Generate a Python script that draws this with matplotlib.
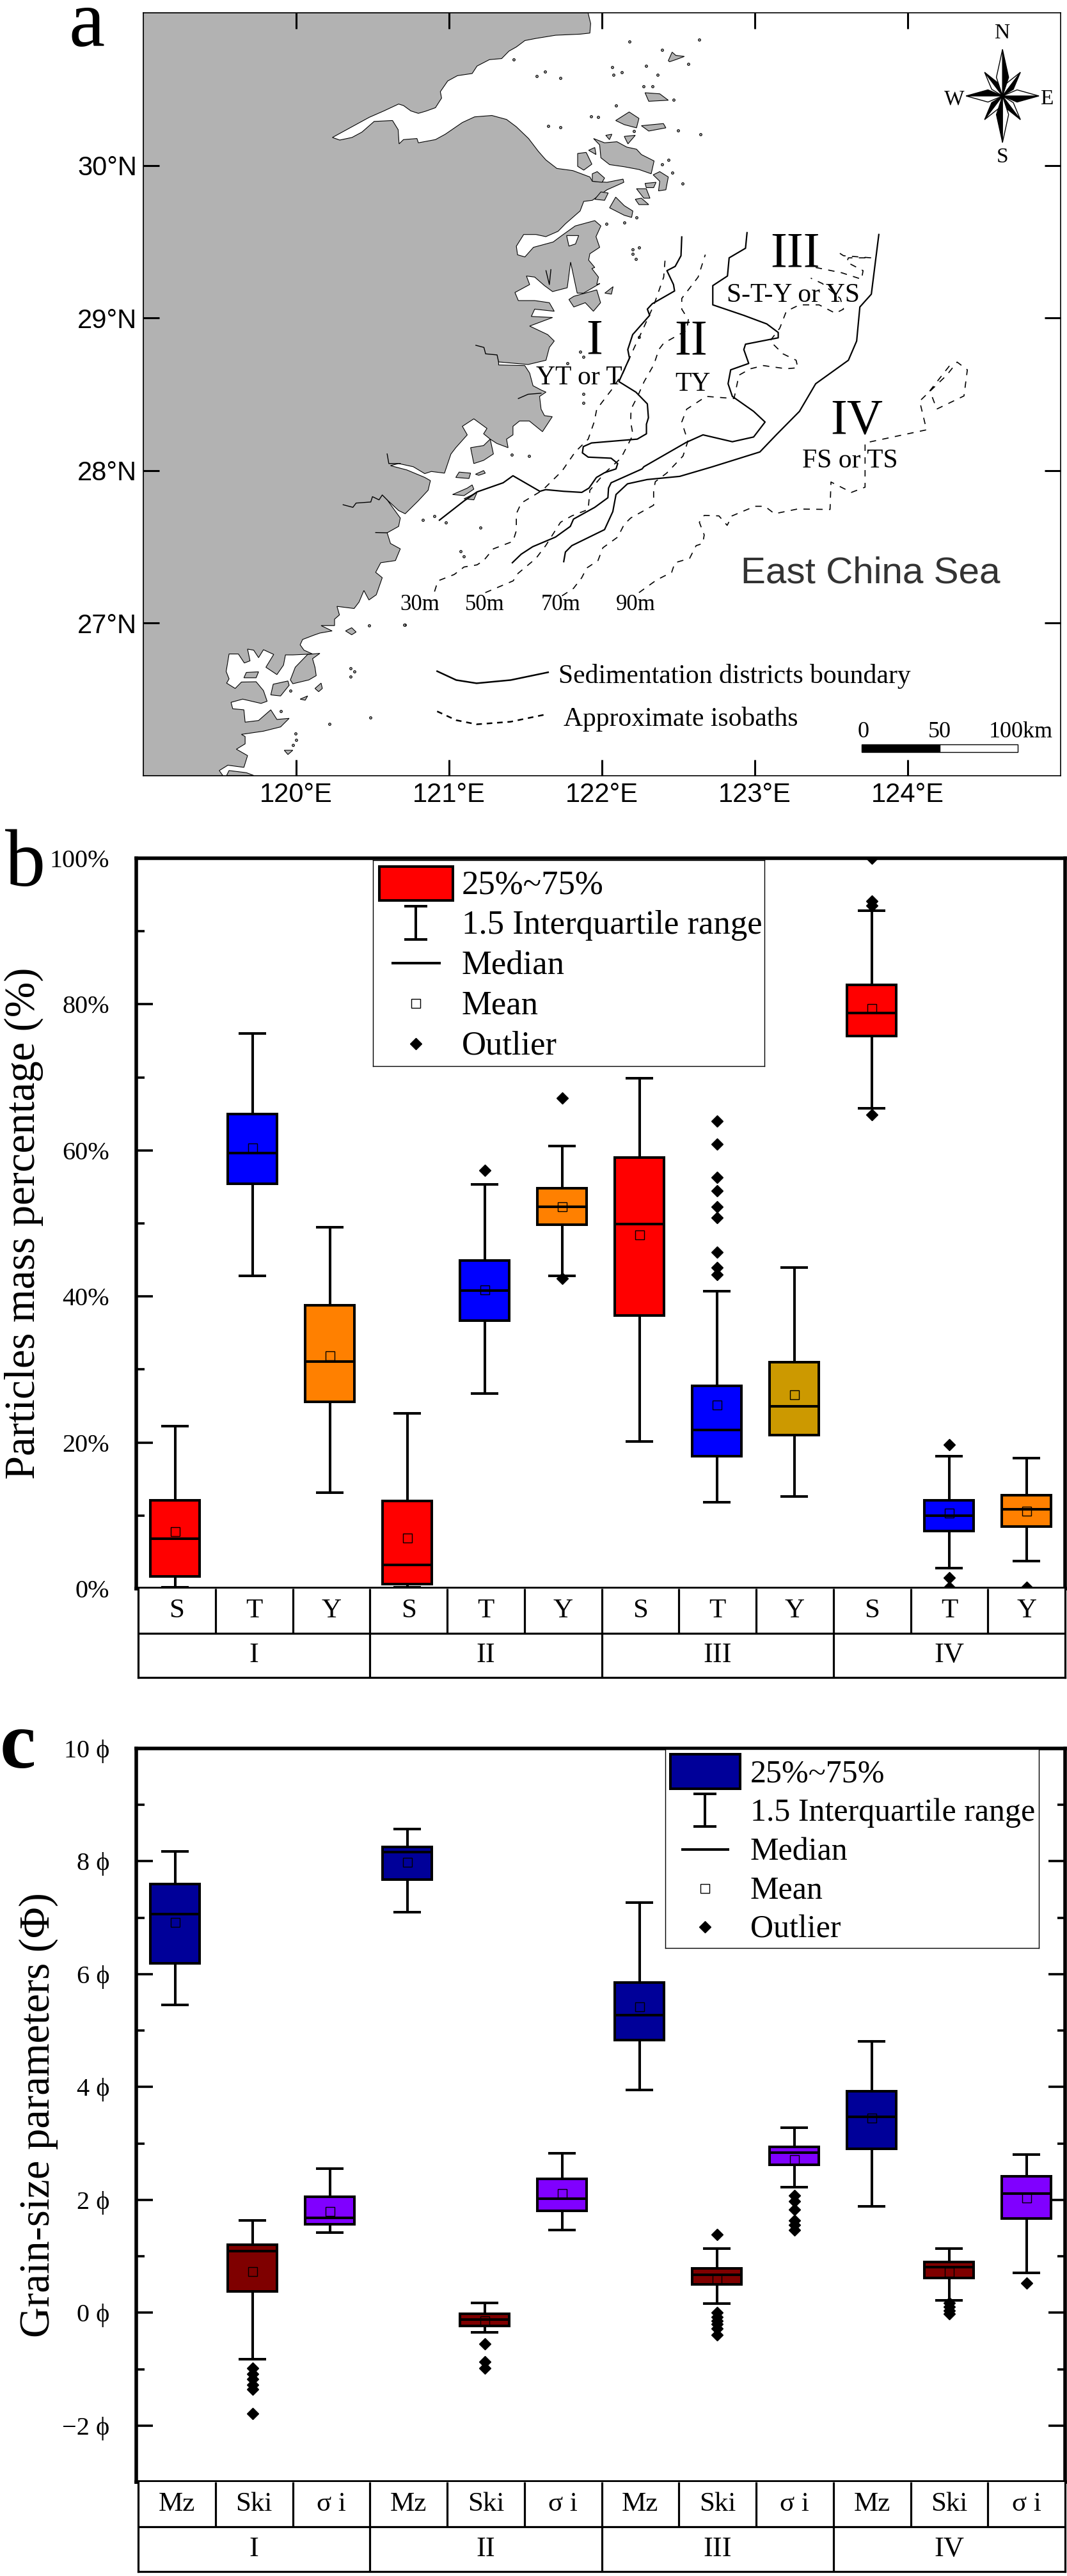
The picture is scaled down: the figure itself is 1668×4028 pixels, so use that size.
import matplotlib
matplotlib.use('Agg')
import numpy as np
import matplotlib.pyplot as plt
from matplotlib.patches import Polygon, Rectangle

plt.rcParams['font.family'] = ['Liberation Serif', 'DejaVu Sans']

W, H = 1668, 4028
GRAY = '#b2b2b2'

# Coastline of the mainland, lon / lat, north to south.
coast_lon = [121.909, 121.926, 121.921, 121.857, 121.697, 121.568, 121.496, 121.440, 121.392, 121.344, 121.264, 121.183,
             121.151, 121.055, 120.991, 120.943, 120.951, 120.911, 120.847, 120.799, 120.750, 120.702, 120.670, 120.574,
             120.478, 120.237, 120.285, 120.365, 120.430, 120.510, 120.630, 120.667, 120.673, 120.702, 120.790, 120.799,
             120.911, 120.975, 121.087, 121.167, 121.280, 121.376, 121.440, 121.520, 121.584, 121.633, 121.705, 121.809,
             121.921, 121.937, 122.033, 122.138, 122.143, 122.033, 121.937, 121.881, 121.857, 121.761, 121.713, 121.633,
             121.568, 121.488, 121.440, 121.448, 121.496, 121.552, 121.681, 121.737, 121.825, 121.953, 121.993, 121.961,
             121.985, 121.921, 121.913, 121.953, 121.934, 121.977, 121.966, 121.987, 121.880, 121.838, 121.795, 121.773,
             121.677, 121.624, 121.560, 121.506, 121.527, 121.431, 121.453, 121.560, 121.656, 121.688, 121.560, 121.538,
             121.677, 121.527, 121.645, 121.688, 121.656, 121.634, 121.517, 121.324, 121.324, 121.495, 121.527, 121.549,
             121.602, 121.634, 121.592, 121.602, 121.624, 121.675, 121.611, 121.568, 121.525, 121.461, 121.418, 121.418,
             121.376, 121.386, 121.312, 121.269, 121.226, 121.248, 121.162, 121.087, 121.119, 121.044, 121.012, 120.970,
             120.884, 120.841, 120.766, 120.670, 120.617, 120.724, 120.841, 120.878, 120.863, 120.798, 120.713, 120.670,
             120.595, 120.681, 120.670, 120.595, 120.617, 120.681, 120.649, 120.553, 120.520, 120.563, 120.524, 120.476,
             120.443, 120.411, 120.379, 120.267, 120.283, 120.251, 120.251, 120.163, 120.235, 120.155, 120.115, 120.042,
             120.026, 120.051, 120.107, 119.978, 119.930, 119.917, 119.874, 119.802, 119.853, 119.786, 119.754, 119.722,
             119.682, 119.698, 119.661, 119.622, 119.561, 119.542, 119.561, 119.545, 119.601, 119.642, 119.738, 119.786,
             119.810, 119.770, 119.650, 119.574, 119.585, 119.658, 119.666, 119.754, 119.834, 119.874, 119.954, 119.898,
             119.786, 119.642, 119.666, 119.666, 119.609, 119.682, 119.658, 119.553, 119.497, 119.521, 119.0, 119.0]
coast_lat = [31.0, 30.930, 30.867, 30.860, 30.853, 30.832, 30.818, 30.776, 30.749, 30.700, 30.693, 30.651,
             30.602, 30.588, 30.553, 30.483, 30.441, 30.378, 30.355, 30.341, 30.357, 30.392, 30.402, 30.357,
             30.315, 30.183, 30.166, 30.183, 30.218, 30.288, 30.294, 30.234, 30.141, 30.169, 30.176, 30.148,
             30.169, 30.204, 30.281, 30.318, 30.327, 30.301, 30.253, 30.176, 30.092, 30.036, 29.980, 29.966,
             29.924, 29.896, 29.889, 29.910, 29.889, 29.840, 29.771, 29.764, 29.701, 29.617, 29.568, 29.533,
             29.547, 29.547, 29.470, 29.414, 29.400, 29.463, 29.498, 29.540, 29.603, 29.638, 29.603, 29.533,
             29.463, 29.421, 29.379, 29.331, 29.324, 29.268, 29.219, 29.226, 29.163, 29.163, 29.366, 29.198,
             29.173, 29.212, 29.268, 29.275, 29.219, 29.167, 29.114, 29.114, 29.100, 29.044, 29.058, 29.010,
             29.003, 28.947, 28.891, 28.849, 28.807, 28.723, 28.695, 28.712, 28.692, 28.688, 28.639, 28.556,
             28.528, 28.514, 28.486, 28.402, 28.360, 28.353, 28.255, 28.290, 28.325, 28.325, 28.290, 28.234,
             28.206, 28.150, 28.178, 28.206, 28.241, 28.276, 28.339, 28.290, 28.234, 28.150, 28.108, 27.983,
             27.994, 27.980, 28.025, 28.046, 28.032, 28.004, 27.955, 27.934, 27.871, 27.801, 27.717, 27.738,
             27.808, 27.689, 27.634, 27.592, 27.522, 27.487, 27.410, 27.396, 27.333, 27.298, 27.186, 27.152,
             27.214, 27.138, 27.096, 27.110, 27.054, 27.026, 26.984, 26.984, 26.949, 26.935, 26.921, 26.893,
             26.858, 26.823, 26.798, 26.792, 26.792, 26.725, 26.663, 26.711, 26.795, 26.826, 26.774, 26.823,
             26.830, 26.753, 26.739, 26.798, 26.798, 26.683, 26.635, 26.607, 26.572, 26.614, 26.616, 26.558,
             26.488, 26.474, 26.502, 26.481, 26.439, 26.432, 26.351, 26.362, 26.432, 26.369, 26.376, 26.320,
             26.292, 26.271, 26.257, 26.209, 26.174, 26.132, 26.055, 26.069, 26.034, 26.0, 26.0, 31.0]

# Larger islands, one (lons, lats) pair each.
islands = [
    ([121.945, 122.017, 122.098, 122.162, 122.226, 122.258, 122.341, 122.322, 122.242, 122.146, 122.050, 121.993, 121.985],
     [30.176, 30.148, 30.155, 30.120, 30.106, 30.071, 30.029, 29.945, 29.973, 29.991, 30.005, 30.050, 30.134]),
    ([121.841, 121.897, 121.934, 121.881, 121.841], [30.078, 30.085, 30.008, 29.969, 29.994]),
    ([122.090, 122.178, 122.242, 122.226, 122.146], [30.294, 30.350, 30.308, 30.246, 30.267]),
    ([122.258, 122.402, 122.418, 122.306], [30.260, 30.274, 30.246, 30.225]),
    ([122.282, 122.378, 122.434, 122.306], [30.476, 30.469, 30.427, 30.420]),
    ([121.937, 121.969, 122.017, 122.001, 121.937], [29.945, 29.959, 29.917, 29.889, 29.896]),
    ([121.953, 121.993, 122.041, 122.017], [29.778, 29.826, 29.819, 29.771]),
    ([122.050, 122.090, 122.146, 122.202, 122.194, 122.146], [29.722, 29.792, 29.736, 29.701, 29.659, 29.673]),
    ([122.226, 122.290, 122.314, 122.274], [29.847, 29.847, 29.785, 29.785]),
    ([122.335, 122.378, 122.434, 122.418, 122.370, 122.378], [29.938, 29.959, 29.924, 29.840, 29.833, 29.896]),
    ([122.218, 122.258, 122.306, 122.242], [29.778, 29.785, 29.743, 29.743]),
    ([122.282, 122.354, 122.338, 122.290], [29.882, 29.889, 29.854, 29.854]),
    ([122.434, 122.459, 122.483, 122.539, 122.483, 122.442], [30.686, 30.742, 30.721, 30.714, 30.693, 30.679]),
    ([122.146, 122.218, 122.170], [30.190, 30.197, 30.141]),
    ([122.025, 122.065, 122.049], [30.197, 30.204, 30.169]),
    ([121.913, 121.953, 121.961], [30.099, 30.117, 30.071]),
    ([121.816, 121.966, 121.991, 121.944, 121.891, 121.816, 121.784], [29.142, 29.184, 29.100, 29.044, 29.100, 29.072, 29.121]),
    ([122.019, 122.073, 122.062], [29.163, 29.205, 29.156]),
    ([121.044, 121.066, 121.141, 121.130], [27.955, 27.990, 27.983, 27.948]),
    ([121.173, 121.226, 121.237, 121.194], [27.976, 28.000, 27.983, 27.969]),
    ([121.023, 121.119, 121.151, 121.162, 121.098], [27.843, 27.885, 27.906, 27.878, 27.836]),
    ([121.098, 121.183, 121.162], [27.815, 27.857, 27.808]),
    ([121.141, 121.226, 121.269, 121.290, 121.226, 121.162], [28.150, 28.164, 28.206, 28.109, 28.067, 28.046]),
    ([120.075, 119.994, 119.962, 119.978, 120.083, 120.131, 120.123, 120.107, 120.155],
     [26.795, 26.711, 26.628, 26.603, 26.628, 26.656, 26.711, 26.767, 26.802]),
    ([119.834, 119.850, 119.946, 119.954, 119.898], [26.530, 26.600, 26.621, 26.593, 26.523]),
    ([119.658, 119.674, 119.754, 119.738], [26.642, 26.677, 26.681, 26.642]),
    ([120.323, 120.363, 120.392, 120.363], [26.949, 26.970, 26.942, 26.924]),
    ([119.561, 119.674, 119.722, 119.545], [26.034, 26.020, 26.002, 26.002]),
    ([119.922, 119.978, 119.946], [26.167, 26.167, 26.139]),
    ([120.123, 120.163, 120.171, 120.147], [26.572, 26.607, 26.572, 26.551]),
    ([120.026, 120.075, 120.059], [26.502, 26.523, 26.495]),
]

# Lake cut out of the land.
lake_lon = [121.769, 121.848, 121.827, 121.784]
lake_lat = [29.540, 29.540, 29.485, 29.471]

# Small islets.
islet_lon = [122.180, 122.394, 121.629, 121.572, 121.726, 121.424, 122.065, 122.130, 122.074, 122.290, 122.362, 122.274,
             122.330, 122.563, 122.635, 122.467, 122.093, 121.973, 121.929, 121.649, 121.726, 122.499, 122.646, 122.210,
             122.434, 122.394, 122.459, 122.527, 122.030, 122.202, 122.242, 122.146, 122.226, 122.201, 122.222, 121.880,
             121.880, 121.859, 121.880, 121.773, 122.244, 121.525, 121.408, 121.076, 121.098, 121.205, 120.980, 120.830,
             120.905, 120.713, 120.355, 120.379, 120.355, 120.484, 119.994, 120.002, 119.978, 119.898, 120.708, 120.476,
             120.219, 119.962]
islet_lat = [30.811, 30.756, 30.616, 30.584, 30.574, 30.693, 30.644, 30.609, 30.592, 30.651, 30.595, 30.518,
             30.518, 30.665, 30.825, 30.430, 30.392, 30.315, 30.322, 30.260, 30.250, 30.227, 30.204, 30.225,
             30.036, 30.008, 29.952, 29.882, 29.617, 29.449, 29.463, 29.624, 29.659, 29.422, 29.387, 28.500,
             28.444, 28.779, 28.744, 28.702, 28.877, 28.095, 28.102, 27.473, 27.438, 27.627, 27.661, 27.675,
             27.703, 26.991, 26.704, 26.684, 26.649, 26.383, 26.278, 26.236, 26.201, 26.425, 26.991, 26.984,
             26.341, 26.558]

# Rivers drawn as thin lines.
rivers = [
    ([121.324, 121.314, 121.239, 121.228, 121.175], [28.712, 28.758, 28.765, 28.807, 28.821]),
    ([120.307, 120.371, 120.392, 120.488, 120.499, 120.542, 120.563, 120.595],
     [27.776, 27.759, 27.787, 27.794, 27.829, 27.808, 27.840, 27.808]),
    ([121.453, 121.517, 121.602], [28.472, 28.500, 28.507]),
    ([120.520, 120.595], [27.594, 27.592]),
    ([120.595, 120.606, 120.681], [28.109, 28.046, 28.046]),
    ([121.634, 121.656, 121.666], [29.310, 29.219, 29.317]),
]

# Sedimentation district boundaries.
bound_a_lon = [122.522, 122.517, 122.479, 122.425, 122.468, 122.475, 122.329, 122.297, 122.312, 122.201, 122.169, 122.180,
               122.111, 122.222, 122.297, 122.304, 122.291, 122.291, 122.231, 121.932, 121.878, 121.872, 121.910, 122.060,
               122.103, 122.092, 122.017, 121.964, 121.915, 121.868, 121.750, 121.632, 121.594, 121.418, 121.354, 121.183,
               121.098, 120.937]
bound_a_lat = [29.531, 29.408, 29.338, 29.310, 29.219, 29.177, 29.093, 29.058, 29.017, 28.891, 28.793, 28.737,
               28.583, 28.514, 28.437, 28.346, 28.304, 28.241, 28.206, 28.181, 28.157, 28.116, 28.088, 28.081,
               28.046, 28.011, 27.986, 27.955, 27.885, 27.857, 27.864, 27.875, 27.864, 27.966, 27.920, 27.860,
               27.801, 27.675]
bound_b_lon = [122.949, 122.939, 122.832, 122.821, 122.725, 122.725, 122.928, 123.078, 123.153, 123.153, 122.939, 122.928,
               122.960, 122.842, 122.825, 122.853, 122.992, 123.067, 122.992, 122.853, 122.661, 122.552, 122.274, 122.263,
               122.060, 122.043, 122.039, 121.953, 121.814, 121.793, 121.696, 121.547, 121.472, 121.414]
bound_b_lat = [29.559, 29.457, 29.394, 29.275, 29.212, 29.086, 29.017, 28.961, 28.905, 28.870, 28.828, 28.793,
               28.702, 28.660, 28.569, 28.486, 28.388, 28.318, 28.220, 28.189, 28.234, 28.185, 28.025, 28.011,
               27.920, 27.885, 27.822, 27.759, 27.682, 27.634, 27.564, 27.501, 27.452, 27.396]
bound_c_lon = [123.811, 123.762, 123.687, 123.666, 123.612, 123.398, 123.292, 123.140, 123.033, 122.723, 122.509, 122.295,
               122.167, 122.092, 122.071, 122.017, 121.803, 121.761, 121.750]
bound_c_lat = [29.547, 29.156, 29.072, 28.849, 28.723, 28.569, 28.388, 28.234, 28.122, 28.025, 27.962, 27.941,
               27.913, 27.843, 27.731, 27.613, 27.508, 27.466, 27.403]

# Approximate isobaths.
iso30_lon = [120.905, 120.927, 121.034, 121.098, 121.183, 121.226, 121.290, 121.418, 121.440, 121.440, 121.472, 121.611,
             121.739, 121.825, 121.910, 121.949, 121.966, 122.062, 122.137, 122.212, 122.265, 122.340, 122.404, 122.415]
iso30_lat = [27.207, 27.277, 27.319, 27.368, 27.382, 27.410, 27.487, 27.536, 27.606, 27.717, 27.787, 27.871,
             27.997, 28.122, 28.206, 28.318, 28.402, 28.528, 28.639, 28.807, 28.919, 29.086, 29.268, 29.408]
iso50_lon = [121.237, 121.419, 121.451, 121.568, 121.632, 121.729, 121.803, 121.910, 121.921, 122.017, 122.124, 122.167,
             122.203, 122.188, 122.190, 122.233, 122.276, 122.340, 122.372, 122.404, 122.479, 122.554, 122.565, 122.522,
             122.522, 122.629, 122.676]
iso50_lat = [27.200, 27.277, 27.326, 27.424, 27.508, 27.661, 27.703, 27.745, 27.871, 27.983, 28.081, 28.164,
             28.234, 28.318, 28.402, 28.486, 28.583, 28.695, 28.793, 28.835, 28.877, 28.919, 28.989, 29.058,
             29.128, 29.268, 29.415]
iso70_lon = [121.739, 121.814, 121.868, 121.900, 121.974, 122.006, 122.103, 122.146, 122.188, 122.338, 122.338, 122.349,
             122.423, 122.530, 122.562, 122.522, 122.554, 122.682, 122.864, 122.896, 122.971, 123.056, 123.206, 123.281,
             123.270, 123.184, 123.099, 123.163, 123.206, 123.292, 123.420, 123.527, 123.580, 123.559, 123.441, 123.366]
iso70_lat = [27.179, 27.228, 27.298, 27.361, 27.410, 27.494, 27.564, 27.648, 27.689, 27.773, 27.871, 27.927,
             27.983, 28.095, 28.192, 28.318, 28.402, 28.486, 28.472, 28.625, 28.667, 28.688, 28.667, 28.674,
             28.723, 28.765, 28.849, 28.933, 29.044, 29.086, 29.086, 29.031, 29.058, 29.128, 29.226, 29.261]
iso70b_lon = [123.398, 123.569, 123.698, 123.708, 123.601, 123.612, 123.762, 123.580, 123.537]
iso70b_lat = [29.331, 29.296, 29.254, 29.310, 29.366, 29.394, 29.394, 29.408, 29.436]
iso90_lon = [122.242, 122.359, 122.456, 122.477, 122.573, 122.616, 122.659, 122.669, 122.637, 122.669, 122.765, 122.819,
             122.851, 123.001, 123.065, 123.129, 123.279, 123.492, 123.498, 123.632, 123.721, 123.721, 124.123, 124.078,
             124.256, 124.323, 124.390, 124.368, 124.190, 124.145, 124.279]
iso90_lat = [27.200, 27.284, 27.333, 27.396, 27.424, 27.508, 27.522, 27.578, 27.661, 27.706, 27.703, 27.641,
             27.703, 27.766, 27.766, 27.717, 27.748, 27.745, 27.925, 27.857, 27.891, 28.181, 28.267, 28.455,
             28.626, 28.711, 28.660, 28.489, 28.403, 28.523, 28.694]

key_lon = [120.922, 121.047, 121.180, 121.403, 121.648]
key_solid_lat = [26.685, 26.627, 26.606, 26.627, 26.678]
key_dash_lat = [26.422, 26.364, 26.337, 26.354, 26.405]

lon_ticks = [120, 121, 122, 123, 124]
lat_ticks = [27, 28, 29, 30]

# Panel b, particle fractions.
b_cats = ['S', 'T', 'Y'] * 4
b_hi = [22.2, 76.0, 49.5, 24.0, 55.3, 60.6, 69.9, 40.7, 44.0, 92.8, 18.1, 17.9]
b_q3 = [12.1, 65.0, 38.8, 12.0, 44.9, 54.8, 59.0, 27.8, 31.0, 82.7, 12.1, 12.8]
b_med = [6.8, 59.6, 31.1, 3.2, 40.8, 52.3, 49.9, 21.7, 25.0, 78.8, 10.0, 10.9]
b_q1 = [1.7, 55.4, 25.6, 0.6, 36.7, 49.8, 37.4, 18.1, 21.0, 75.7, 7.9, 8.5]
b_lo = [0.15, 42.8, 13.1, 0.15, 26.7, 42.8, 20.1, 11.8, 12.6, 65.8, 2.8, 3.8]
b_mean = [7.8, 60.3, 31.9, 6.9, 40.9, 52.3, 48.4, 25.1, 26.5, 79.4, 10.3, 10.6]
b_out = [[], [], [], [], [57.3], [67.2, 42.5], [],
         [64.0, 60.9, 56.3, 54.5, 52.3, 50.8, 46.1, 44.0, 43.0], [],
         [100, 94.1, 93.5, 64.9], [19.7, 1.5, 0.15], [0.15]]
b_colors = ['#ff0000', '#0000ff', '#ff8000', '#ff0000', '#0000ff', '#ff8000',
            '#ff0000', '#0000ff', '#cc9900', '#ff0000', '#0000ff', '#ff8000']

# Panel c, grain-size parameters.
c_cats = ['Mz', 'Ski', 'σ i'] * 4
c_hi = [8.17, 1.63, 2.55, 8.57, 0.17, 2.82, 7.27, 1.14, 3.28, 4.81, 1.14, 2.80]
c_q3 = [7.60, 1.20, 2.05, 8.26, -0.02, 2.37, 5.85, 0.78, 2.94, 3.92, 0.90, 2.42]
c_med = [7.06, 1.09, 1.68, 8.16, -0.12, 2.02, 5.27, 0.67, 2.84, 3.47, 0.81, 2.11]
c_q1 = [6.19, 0.38, 1.57, 7.68, -0.23, 1.80, 4.83, 0.50, 2.62, 2.90, 0.61, 1.67]
c_lo = [5.46, -0.82, 1.42, 7.10, -0.35, 1.47, 3.95, 0.16, 2.22, 1.89, 0.22, 0.71]
c_mean = [6.92, 0.73, 1.79, 7.98, -0.14, 2.11, 5.42, 0.59, 2.71, 3.45, 0.72, 2.03]
c_out = [[], [-0.98, -1.08, -1.18, -1.28, -1.36, -1.79], [], [], [-0.55, -0.87, -0.98], [],
         [], [1.39, -0.0, -0.08, -0.14, -0.2, -0.28, -0.39], [2.08, 1.98, 1.83, 1.63, 1.56, 1.46],
         [], [0.17, 0.11, 0.04, -0.02], [0.52]]
c_colors = ['#000099', '#7f0000', '#8000ff'] * 4

districts = ['I', 'II', 'III', 'IV']
legend_labels = ['25%~75%', '1.5 Interquartile range', 'Median', 'Mean', 'Outlier']

LW = 2.9


def axes_px(left, top, right, bottom):
    return fig.add_axes([left / W, 1 - bottom / H, (right - left) / W, (bottom - top) / H])


def draw_boxes(ax, hi, q3, med, q1, lo, mean, out, colors):
    stats = []
    for i in range(len(hi)):
        stats.append(dict(whishi=hi[i], q3=q3[i], med=med[i], q1=q1[i], whislo=lo[i], mean=mean[i], fliers=out[i]))
    res = ax.bxp(stats, positions=np.arange(1, len(hi) + 1), widths=0.64, capwidths=0.33, patch_artist=True,
                 showmeans=True, manage_ticks=False,
                 boxprops=dict(linewidth=LW, edgecolor='k'),
                 whiskerprops=dict(linewidth=LW, color='k'),
                 capprops=dict(linewidth=LW, color='k'),
                 medianprops=dict(linewidth=LW, color='k'),
                 meanprops=dict(marker='s', markerfacecolor='none', markeredgecolor='k', markeredgewidth=1, markersize=9.5),
                 flierprops=dict(marker='D', markerfacecolor='k', markeredgecolor='k', markersize=9))
    for patch, col in zip(res['boxes'], colors):
        patch.set_facecolor(col)


def draw_table(ax, cats):
    # Two-row category table under a box panel.
    ax.set_xlim(0.5, 12.5)
    ax.set_ylim(0, 2)
    ax.set_xticks([])
    ax.set_yticks([])
    ax.axhline(1, color='k', lw=2.3)
    for spine in ax.spines.values():
        spine.set_linewidth(2.3)
    ax.spines['top'].set_visible(False)
    ax.vlines(np.arange(1.5, 12.5, 1), 1, 2, color='k', lw=2.3)
    ax.vlines([3.5, 6.5, 9.5], 0, 1, color='k', lw=2.3)
    for i, c in enumerate(cats):
        ax.text(i + 1, 1.5, c, ha='center', va='center', fontsize=31)
    for i, d in enumerate(districts):
        ax.text(2 + 3 * i, 0.5, d, ha='center', va='center', fontsize=32)


def draw_key(ax, color, labels, fontsize, text_x, patch_x, patch_y, whisk_y, row_y):
    ax.set_xlim(0, 1)
    ax.set_ylim(1, 0)
    ax.set_xticks([])
    ax.set_yticks([])
    for spine in ax.spines.values():
        spine.set_linewidth(1)
    mid = sum(patch_x) / 2
    ax.add_patch(Rectangle((patch_x[0], patch_y[0]), patch_x[1] - patch_x[0], patch_y[1] - patch_y[0],
                           facecolor=color, edgecolor='k', lw=LW))
    ax.errorbar([mid], [sum(whisk_y) / 2], yerr=[(whisk_y[1] - whisk_y[0]) / 2], color='k', lw=LW, capsize=13, capthick=LW)
    ax.plot([mid - 0.06, mid + 0.06], [row_y[2], row_y[2]], color='k', lw=LW)
    ax.plot([mid], [row_y[3]], 's', mfc='none', mec='k', mew=1, ms=9.5)
    ax.plot([mid], [row_y[4]], 'D', color='k', ms=9)
    for y, lab in zip(row_y, labels):
        ax.text(text_x, y + 0.012, lab, ha='left', va='center', fontsize=fontsize)


def style_box_axis(ax, major, minor, labels, low, high, right):
    ax.set_xlim(0.5, 12.5)
    ax.set_ylim(low, high)
    ax.set_xticks([])
    ax.set_yticks(major)
    ax.set_yticklabels(labels, fontsize=29)
    ax.set_yticks(minor, minor=True)
    ax.tick_params(axis='y', which='major', direction='in', length=19, width=2.6, right=right, pad=30)
    ax.tick_params(axis='y', which='minor', direction='in', length=9, width=2.6, right=right)
    for spine in ax.spines.values():
        spine.set_linewidth(4)


def draw_compass(ax, cx, cy, arms, spread):
    # Each arm is split along its axis, black on the clockwise side.
    for dx, dy in arms:
        length = np.hypot(dx, dy)
        px, py = dy / length * spread, -dx / length * spread
        bx, by = cx + dx * 0.4, cy + dy * 0.4
        ax.add_patch(Polygon([(cx, cy), (cx + dx, cy + dy), (bx + px, by + py)], facecolor='k', edgecolor='k', lw=1, zorder=6))
        ax.add_patch(Polygon([(cx, cy), (cx + dx, cy + dy), (bx - px, by - py)], facecolor='w', edgecolor='k', lw=1, zorder=6))


fig = plt.figure(figsize=(W / 100, H / 100), dpi=100)

# ---- Panel a: map ----
ax_map = axes_px(224, 20, 1658, 1213)
ax_map.set_xlim(119, 125)
ax_map.set_ylim(26, 31)
ax_map.add_patch(Polygon(np.c_[coast_lon, coast_lat], facecolor=GRAY, edgecolor='k', lw=0.8))
for lon, lat in islands:
    ax_map.add_patch(Polygon(np.c_[lon, lat], facecolor=GRAY, edgecolor='k', lw=0.8))
ax_map.add_patch(Polygon(np.c_[lake_lon, lake_lat], facecolor='w', edgecolor='k', lw=0.8))
ax_map.scatter(islet_lon, islet_lat, s=7, marker='o', facecolor=GRAY, edgecolor='k', linewidth=0.8)
for lon, lat in rivers:
    ax_map.plot(lon, lat, color='k', lw=1)

for lon, lat in [(bound_a_lon, bound_a_lat), (bound_b_lon, bound_b_lat), (bound_c_lon, bound_c_lat)]:
    ax_map.plot(lon, lat, color='k', lw=1.6)
for lon, lat in [(iso30_lon, iso30_lat), (iso50_lon, iso50_lat), (iso70_lon, iso70_lat), (iso70b_lon, iso70b_lat),
                 (iso90_lon, iso90_lat)]:
    ax_map.plot(lon, lat, color='k', lw=1.2, ls=(0, (6, 6)))

ax_map.set_xticks(lon_ticks)
ax_map.set_xticklabels(['%d°E' % v for v in lon_ticks], family='Liberation Sans', fontsize=30)
ax_map.set_yticks(lat_ticks)
ax_map.set_yticklabels(['%d°N' % v for v in lat_ticks], family='Liberation Sans', fontsize=30)
ax_map.tick_params(direction='in', length=18, width=2.2, top=True, right=True, pad=7)
for spine in ax_map.spines.values():
    spine.set_linewidth(1.2)

# District labels.
for x, y, s in [(121.951, 28.848, 'I'), (122.584, 28.841, 'II'), (123.262, 29.418, 'III'), (123.668, 28.325, 'IV')]:
    ax_map.text(x, y, s, ha='center', va='center', fontsize=56)
for x, y, s in [(121.849, 28.608, 'YT or T'), (122.593, 28.564, 'TY'), (123.253, 29.148, 'S-T-Y or YS'),
                (123.623, 28.062, 'FS or TS')]:
    ax_map.text(x, y, s, ha='center', va='center', fontsize=30)
for x, s in [(120.81, '30m'), (121.234, '50m'), (121.73, '70m'), (122.22, '90m')]:
    ax_map.text(x, 27.122, s, ha='center', va='center', fontsize=25)
ax_map.plot(key_lon, key_solid_lat, color='k', lw=1.8)
ax_map.plot(key_lon, key_dash_lat, color='k', lw=1.8, ls=(0, (3.5, 3)))
ax_map.text(121.715, 26.651, 'Sedimentation districts boundary', ha='left', va='center', fontsize=30)
ax_map.text(121.75, 26.371, 'Approximate isobaths', ha='left', va='center', fontsize=30)
ax_map.text(122.906, 27.327, 'East China Sea', ha='left', va='center', family='Liberation Sans', fontsize=42, color='#333333')

# Scale bar.
ax_map.add_patch(Rectangle((123.70, 26.155), 0.51, 0.05, facecolor='k', edgecolor='k', lw=1))
ax_map.add_patch(Rectangle((124.21, 26.155), 0.51, 0.05, facecolor='w', edgecolor='k', lw=1))
for x, s in [(123.708, '0'), (124.21, '50'), (124.74, '100km')]:
    ax_map.text(x, 26.285, s, ha='center', va='center', fontsize=26)

# Compass rose.
cx, cy = 124.62, 30.455
draw_compass(ax_map, cx, cy, [(0.117, 0.155), (0.117, -0.155), (-0.117, -0.155), (-0.117, 0.155)], 0.03)
draw_compass(ax_map, cx, cy, [(0, 0.305), (0.238, 0), (0, -0.305), (-0.238, 0)], 0.04)
ax_map.text(cx, 30.866, 'N', ha='center', va='center', fontsize=24)
ax_map.text(cx, 30.053, 'S', ha='center', va='center', fontsize=24)
ax_map.text(124.305, 30.434, 'W', ha='center', va='center', fontsize=24)
ax_map.text(124.91, 30.434, 'E', ha='center', va='center', fontsize=24)

# ---- Panel b ----
ax_b = axes_px(213, 1342, 1665, 2484)
draw_boxes(ax_b, b_hi, b_q3, b_med, b_q1, b_lo, b_mean, b_out, b_colors)
b_ticks = [0, 20, 40, 60, 80, 100]
style_box_axis(ax_b, b_ticks, [10, 30, 50, 70, 90], ['%d%%' % v for v in b_ticks], 0, 100, False)
ax_b.set_ylabel('Particles mass percentage (%)', fontsize=48, va='center')
ax_b.yaxis.set_label_coords((37 - 213) / 1452, 0.5)
tab_b = axes_px(216, 2484, 1665, 2623)
draw_table(tab_b, b_cats)
key_b = axes_px(583, 1345, 1195, 1667)
draw_key(key_b, '#ff0000', legend_labels, 38, 0.227, (0.016, 0.204), (0.03, 0.195), (0.225, 0.385),
         (0.11, 0.305, 0.50, 0.695, 0.89))

# ---- Panel c ----
ax_c = axes_px(213, 2734, 1665, 3881)
draw_boxes(ax_c, c_hi, c_q3, c_med, c_q1, c_lo, c_mean, c_out, c_colors)
c_ticks = [-2, 0, 2, 4, 6, 8, 10]
style_box_axis(ax_c, c_ticks, [-3, -1, 1, 3, 5, 7, 9],
               [('%d ϕ' % v).replace('-', '\u2212') for v in c_ticks], -3, 10, True)
ax_c.set_ylabel('Grain-size parameters (Φ)', fontsize=48, va='center')
ax_c.yaxis.set_label_coords((60 - 213) / 1452, 0.5)
tab_c = axes_px(216, 3881, 1665, 4021)
draw_table(tab_c, c_cats)
key_c = axes_px(1040, 2735, 1624, 3046)
draw_key(key_c, '#000099', legend_labels, 36, 0.227, (0.014, 0.2), (0.026, 0.2), (0.225, 0.39),
         (0.115, 0.31, 0.505, 0.70, 0.895))

# Panel letters.
fig.text(108 / W, 1 - 72 / H, 'a', fontsize=91, ha='left', va='baseline')
fig.text(8 / W, 1 - 1385 / H, 'b', fontsize=91, ha='left', va='baseline')
fig.text(0 / W, 1 - 2764 / H, 'c', fontsize=91, ha='left', va='baseline', fontweight='bold')

fig.savefig('out.png', dpi=100)
